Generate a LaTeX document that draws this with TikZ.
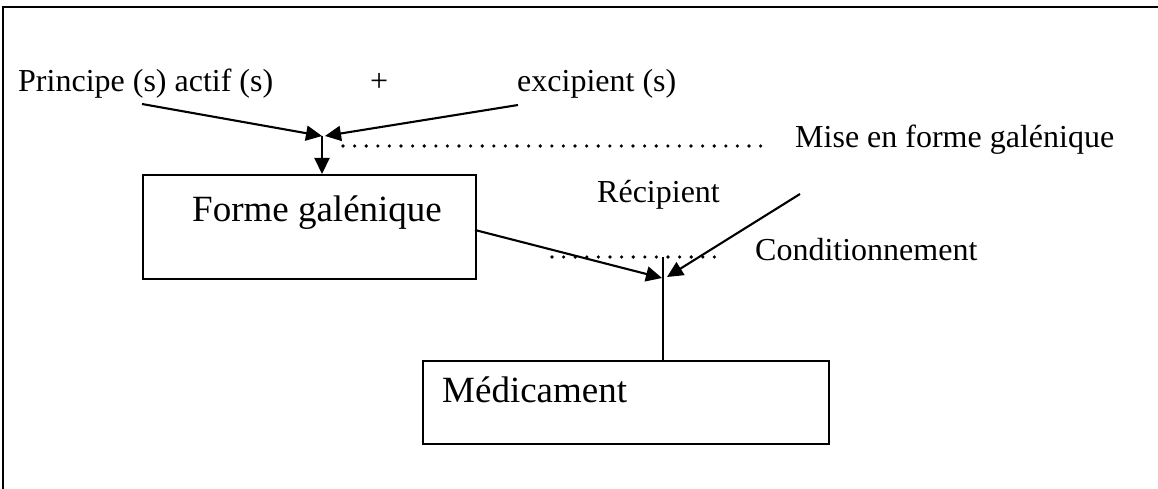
\documentclass[tikz,border=0pt]{standalone}
\usepackage{fontspec}
\setmainfont{Liberation Serif}
\usetikzlibrary{arrows.meta}
\begin{document}
\begin{tikzpicture}[x=1pt,y=-1pt,
  lbl/.style={inner sep=0pt,anchor=base west,font=\fontsize{32}{38}\selectfont},
  biglbl/.style={inner sep=0pt,anchor=base west,font=\fontsize{37}{44}\selectfont},
  boxnode/.style={draw,line width=2.2pt,inner sep=0pt,anchor=north west},
  conn/.style={line width=2.1pt,-{Triangle[length=16pt,width=15pt]}},
  dots/.style={line width=3.6pt,line cap=round,dash pattern=on 0pt off 11.6pt}]
\useasboundingbox (0,0) rectangle (1158,489);
% frame
\draw[line width=2.6pt] (3,489) -- (3,7) -- (1160,7);
% texts
\node[lbl] (princ) at (18,92) {Principe (s) actif (s)};
\node[lbl] (plus) at (370,92) {+};
\node[lbl] (excip) at (517,92) {excipient (s)};
\node[lbl] (mise) at (795,148) {Mise en forme galénique};
\node[lbl] (recip) at (597,202) {Récipient};
\node[lbl] (cond) at (755,260) {Conditionnement};
% boxes
\node[boxnode,minimum width=333pt,minimum height=104pt] (forme) at (142,174) {};
\node[biglbl] (formeT) at (192,221) {Forme galénique};
\node[boxnode,minimum width=406pt,minimum height=83pt] (medic) at (422,360) {};
\node[biglbl] (medicT) at (442,402) {Médicament};
% coordinates
\coordinate (p1) at (142,104);
\coordinate (e1) at (518,105);
\coordinate (j1) at (322,136);
\coordinate (j1r) at (325,136);
\coordinate (d1s) at (343,146);
\coordinate (d1e) at (767,146);
\coordinate (f1) at (475,230);
\coordinate (r1) at (800,194);
\coordinate (j2) at (662,278);
\coordinate (j2r) at (667,277);
\coordinate (j2t) at (663,257);
\coordinate (d2s) at (552,257);
\coordinate (d2e) at (725,257);
% connectors
\draw[conn] (p1) -- (j1);
\draw[conn] (e1) -- (j1r);
\draw[conn] (j1) -- (forme.north -| j1);
\draw[dots] (d1s) -- (d1e);
\draw[conn] (f1) -- (j2);
\draw[conn] (r1) -- (j2r);
\draw[line width=1.7pt] (j2t) -- (medic.north -| j2t);
\draw[dots] (d2s) -- (d2e);
\end{tikzpicture}
\end{document}
